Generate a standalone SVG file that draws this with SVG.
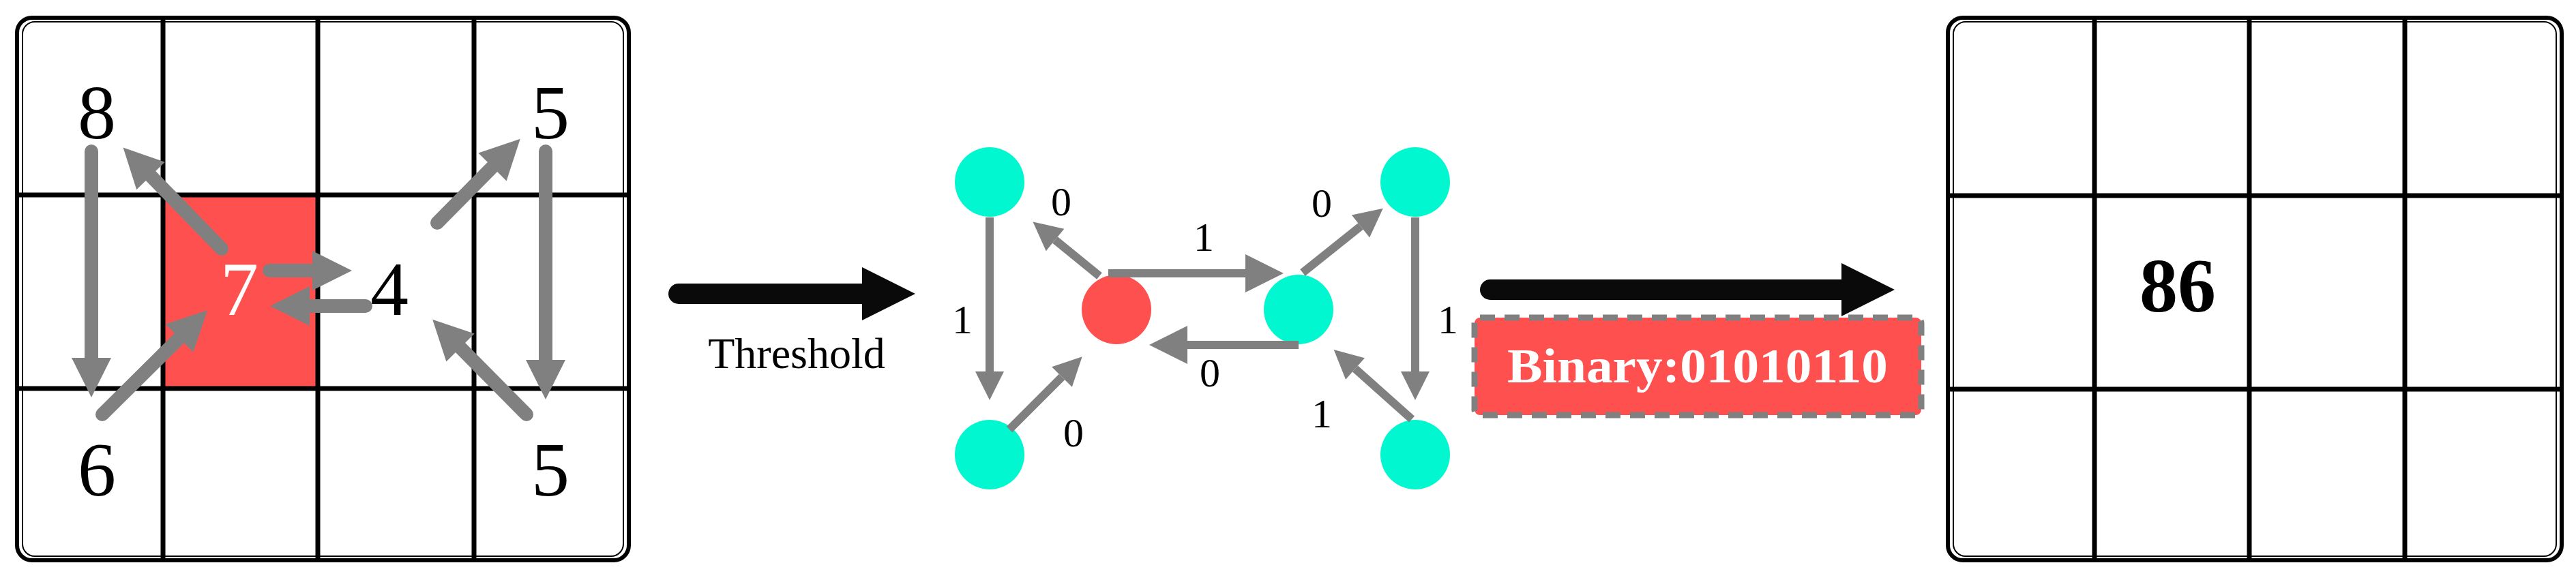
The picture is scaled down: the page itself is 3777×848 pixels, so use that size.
<svg xmlns="http://www.w3.org/2000/svg" width="3777" height="848" viewBox="0 0 3777 848">
<style>
.frame{fill:#fff;stroke:#000;stroke-width:6}
.frame2{fill:none;stroke:#000;stroke-width:2}
.gl{stroke:#000;stroke-width:7;fill:none}
.num{font-family:"Liberation Serif",serif;font-size:112px;text-anchor:middle}
.ga{stroke:#808080;stroke-width:20;stroke-linecap:round;fill:none}
.ge{stroke:#808080;stroke-width:12;fill:none}
.lbl{font-family:"Liberation Serif",serif;font-size:60px;text-anchor:middle}
.cy{fill:#00f7d0}
</style>
<defs>
<marker id="ah" markerUnits="userSpaceOnUse" viewBox="0 0 10 10" refX="0" refY="5" markerWidth="75" markerHeight="58" orient="auto"><path d="M0,0L10,5L0,10z" fill="#808080"/></marker>
<marker id="ah2" markerUnits="userSpaceOnUse" viewBox="0 0 10 10" refX="0" refY="5" markerWidth="70" markerHeight="42" orient="auto"><path d="M0,0L10,5L0,10z" fill="#808080"/></marker>
<marker id="ah3" markerUnits="userSpaceOnUse" viewBox="0 0 10 10" refX="0" refY="5" markerWidth="78" markerHeight="56" orient="auto"><path d="M0,0L10,5L0,10z" fill="#808080"/></marker>
<marker id="bh" markerUnits="userSpaceOnUse" viewBox="0 0 10 10" refX="0" refY="5" markerWidth="110" markerHeight="78" orient="auto"><path d="M0,0L10,5L0,10z" fill="#0a0a0a"/></marker>
</defs>
<g id="left-grid">
<rect x="25" y="26" width="897" height="796" rx="22" class="frame"/>
<rect x="33" y="32" width="881" height="784" rx="18" class="frame2"/>
<rect x="239" y="286" width="227" height="284" fill="#ff5050"/>
<path class="gl" d="M239 26V822M466 26V822M695 26V822M25 286H922M25 570H922"/>
<text class="num" x="142" y="203">8</text>
<text class="num" x="807" y="203">5</text>
<text class="num" x="351" y="462" fill="#fff">7</text>
<text class="num" x="571" y="462">4</text>
<text class="num" x="142" y="727">6</text>
<text class="num" x="807" y="727">5</text>
</g>
<g id="left-arrows">
<line class="ga" x1="134" y1="222" x2="134" y2="525" marker-end="url(#ah)"/>
<line class="ga" x1="150" y1="608" x2="263" y2="496" marker-end="url(#ah)"/>
<line class="ga" x1="325" y1="365" x2="221" y2="258" marker-end="url(#ah)"/>
<line class="ga" x1="395" y1="397" x2="458" y2="397" marker-end="url(#ah)"/>
<line class="ga" x1="536" y1="449" x2="454" y2="449" marker-end="url(#ah)"/>
<line class="ga" x1="641" y1="327" x2="722" y2="245" marker-end="url(#ah)"/>
<line class="ga" x1="800" y1="222" x2="800" y2="528" marker-end="url(#ah)"/>
<line class="ga" x1="772" y1="608" x2="675" y2="510" marker-end="url(#ah)"/>
</g>
<g id="threshold-arrow">
<line x1="995" y1="431" x2="1264" y2="431" stroke="#0a0a0a" stroke-width="30" stroke-linecap="round" marker-end="url(#bh)"/>
<text x="1168" y="540" font-family="Liberation Serif,serif" font-size="64" text-anchor="middle">Threshold</text>
</g>
<g id="graph-nodes">
<circle id="n-tl" class="cy" cx="1451" cy="267" r="51"/>
<circle id="n-bl" class="cy" cx="1451" cy="667" r="51"/>
<circle id="n-c" cx="1637" cy="454" r="51" fill="#ff5050"/>
<circle id="n-m" class="cy" cx="1904" cy="454" r="51"/>
<circle id="n-tr" class="cy" cx="2075" cy="267" r="51"/>
<circle id="n-br" class="cy" cx="2075" cy="667" r="51"/>
</g>
<g id="graph-edges">
<line class="ge" x1="1451" y1="319" x2="1451" y2="545" marker-end="url(#ah2)"/>
<line class="ge" x1="1612" y1="405" x2="1547" y2="352" marker-end="url(#ah2)"/>
<line class="ge" x1="1625" y1="401" x2="1826" y2="401" stroke-width="22" marker-end="url(#ah3)"/>
<line class="ge" x1="1904" y1="506" x2="1741" y2="506" stroke-width="22" marker-end="url(#ah3)"/>
<line class="ge" x1="1480" y1="630" x2="1557" y2="553" marker-end="url(#ah2)"/>
<line class="ge" x1="1910" y1="400" x2="1995" y2="332" marker-end="url(#ah2)"/>
<line class="ge" x1="2075" y1="319" x2="2075" y2="545" marker-end="url(#ah2)"/>
<line class="ge" x1="2070" y1="615" x2="1987" y2="541" marker-end="url(#ah2)"/>
<text class="lbl" x="1411" y="489">1</text>
<text class="lbl" x="1556" y="316">0</text>
<text class="lbl" x="1765" y="368">1</text>
<text class="lbl" x="1774" y="567">0</text>
<text class="lbl" x="1574" y="655">0</text>
<text class="lbl" x="1938" y="318">0</text>
<text class="lbl" x="2123" y="489">1</text>
<text class="lbl" x="1938" y="627">1</text>
</g>
<g id="binary-arrow">
<line x1="2185" y1="425" x2="2700" y2="425" stroke="#0a0a0a" stroke-width="30" stroke-linecap="round" marker-end="url(#bh)"/>
</g>
<g id="binary-box">
<rect x="2162" y="466" width="655" height="143" rx="8" fill="#ff5050" stroke="#808080" stroke-width="9" stroke-dasharray="22 14"/>
<text x="2489" y="561" font-family="Liberation Serif,serif" font-weight="bold" font-size="72" fill="#fff" text-anchor="middle" textLength="558" lengthAdjust="spacingAndGlyphs">Binary:01010110</text>
</g>
<g id="right-grid">
<rect x="2856" y="26" width="900" height="796" rx="22" class="frame"/>
<rect x="2864" y="32" width="884" height="784" rx="18" class="frame2"/>
<path class="gl" d="M3071 26V822M3298 26V822M3526 26V822M2856 287H3756M2856 571H3756"/>
<text x="3193" y="457" font-family="Liberation Serif,serif" font-weight="bold" font-size="112" text-anchor="middle">86</text>
</g>
</svg>
